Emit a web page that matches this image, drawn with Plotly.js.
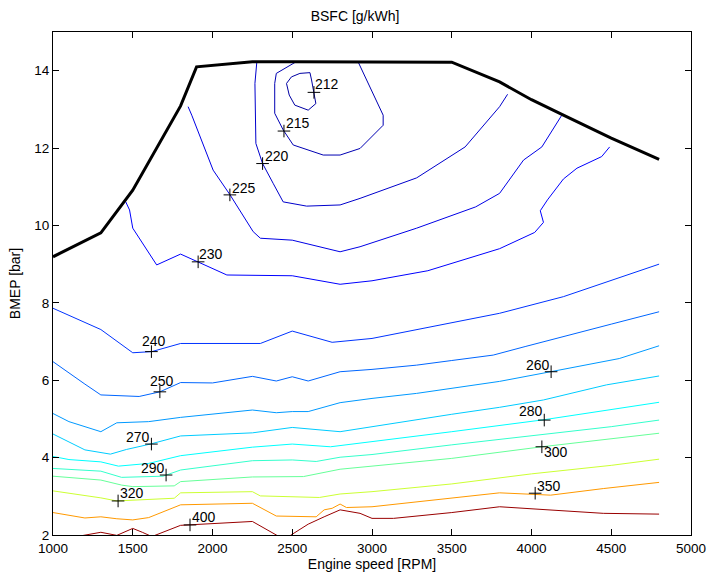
<!DOCTYPE html>
<html><head><meta charset="utf-8">
<script src="https://cdn.plot.ly/plotly-3.0.1.min.js"></script>
<style>body{margin:0;background:#fff}</style>
</head><body><div id="chart" style="width:710px;height:576px"></div>
<script>
// ---- data (engine speed [RPM], BMEP [bar]) ----
const fullLoadRpm  = [1000, 1300, 1500, 1800, 1900, 2250, 2500, 3000, 3500, 3800, 4000, 4200, 4500, 4800];
const fullLoadBmep = [9.19, 9.81, 10.91, 13.09, 14.10, 14.23, 14.23, 14.23, 14.22, 13.71, 13.25, 12.85, 12.26, 11.71];

const rpm212  = [2464, 2495, 2548, 2611, 2621, 2636, 2648, 2600, 2516, 2481, 2464];
const bmep212 = [13.67, 13.84, 13.93, 13.95, 13.76, 13.41, 13.15, 12.98, 13.11, 13.37, 13.67];

const rpm215  = [2520, 2400, 2390, 2390, 2443, 2506, 2694, 2800, 2925, 3070, 3070, 2915];
const bmep215 = [14.22, 13.93, 13.67, 12.90, 12.47, 12.08, 11.82, 11.82, 11.99, 12.59, 12.85, 14.21];

const rpm220  = [2278, 2266, 2272, 2314, 2380, 2443, 2590, 2800, 2925, 3280, 3584, 3800, 3850];
const bmep220 = [14.23, 13.67, 12.12, 11.60, 11.09, 10.61, 10.50, 10.53, 10.70, 11.23, 12.03, 13.07, 13.39];

const rpm225  = [1847, 1870, 2004, 2110, 2255, 2300, 2500, 2800, 2925, 3280, 3650, 3800, 3950, 4065, 4190];
const bmep225 = [13.07, 12.85, 11.43, 10.79, 9.84, 9.67, 9.62, 9.32, 9.45, 9.93, 10.48, 10.83, 11.69, 12.03, 12.85];

const rpm230  = [1455, 1480, 1500, 1650, 1800, 1910, 2090, 2500, 2800, 3000, 3350, 3800, 4020, 4075, 4055, 4100, 4200, 4285, 4440, 4490];
const bmep230 = [10.62, 10.40, 9.93, 8.98, 9.26, 9.06, 8.72, 8.70, 8.48, 8.57, 8.83, 9.40, 9.82, 10.08, 10.38, 10.66, 11.20, 11.48, 11.78, 12.03];

const rpm240  = [1000, 1300, 1500, 1620, 1800, 2250, 2300, 2500, 2750, 3000, 3250, 3500, 3800, 4200, 4500, 4800];
const bmep240 = [7.86, 7.31, 6.71, 6.74, 6.95, 6.94, 6.95, 7.27, 6.98, 7.08, 7.28, 7.49, 7.73, 8.16, 8.58, 9.00];

const rpm250  = [1000, 1100, 1200, 1300, 1540, 1670, 1800, 2000, 2250, 2400, 2500, 2600, 2800, 3000, 3280, 3500, 3760, 3960, 4200, 4500, 4800];
const bmep250 = [6.48, 6.18, 5.90, 5.62, 5.58, 5.70, 5.94, 5.93, 6.10, 5.98, 6.09, 5.98, 6.22, 6.28, 6.39, 6.51, 6.65, 6.87, 7.12, 7.45, 7.77];

const rpm260  = [1000, 1100, 1300, 1400, 1600, 1800, 2250, 2400, 2500, 2600, 2800, 3000, 3280, 3500, 3800, 4120, 4550, 4800];
const bmep260 = [5.14, 4.93, 4.67, 4.90, 4.93, 5.04, 5.23, 5.16, 5.19, 5.19, 5.42, 5.53, 5.66, 5.79, 5.97, 6.22, 6.56, 6.89];

const rpm270  = [1000, 1200, 1360, 1460, 1610, 1800, 2250, 2500, 2800, 3000, 3220, 3500, 3800, 4075, 4470, 4800];
const bmep270 = [4.61, 4.20, 4.09, 4.21, 4.35, 4.56, 4.64, 4.78, 4.67, 4.80, 4.93, 5.12, 5.30, 5.49, 5.88, 6.11];

const rpm280  = [1000, 1100, 1300, 1410, 1600, 1800, 2250, 2500, 2740, 3000, 3500, 4080, 4500, 4800];
const bmep280 = [4.03, 3.95, 3.89, 3.78, 3.85, 4.05, 4.27, 4.35, 4.28, 4.41, 4.67, 4.98, 5.24, 5.43];

const rpm290  = [1000, 1300, 1430, 1690, 1800, 2250, 2500, 2650, 2800, 3000, 3500, 4100, 4500, 4800];
const bmep290 = [3.72, 3.65, 3.49, 3.52, 3.68, 3.92, 3.94, 3.90, 4.01, 4.08, 4.33, 4.62, 4.80, 4.97];

const rpm300  = [1000, 1300, 1430, 1500, 1760, 1800, 2250, 2570, 2800, 3000, 3500, 4065, 4500, 4800];
const bmep300 = [3.52, 3.42, 3.29, 3.25, 3.27, 3.38, 3.50, 3.51, 3.70, 3.78, 3.98, 4.28, 4.48, 4.63];

const rpm320  = [1000, 1300, 1400, 1760, 1800, 2250, 2300, 2670, 2800, 3000, 3500, 4000, 4500, 4800];
const bmep320 = [3.14, 2.96, 2.88, 2.95, 3.09, 3.12, 3.01, 2.97, 3.06, 3.12, 3.32, 3.58, 3.80, 3.96];

const rpm350  = [1000, 1200, 1300, 1400, 1500, 1600, 1800, 2250, 2400, 2650, 2700, 2750, 2800, 2840, 3000, 3500, 3800, 4120, 4450, 4800];
const bmep350 = [2.58, 2.44, 2.47, 2.42, 2.39, 2.45, 2.78, 2.82, 2.49, 2.47, 2.65, 2.69, 2.80, 2.71, 2.73, 2.96, 3.09, 3.03, 3.20, 3.36];

const rpm400  = [1000, 1200, 1300, 1400, 1500, 1560, 1620, 1800, 2250, 2400, 2450, 2500, 2600, 2700, 2800, 2925, 3000, 3135, 3500, 3800, 4120, 4450, 4800];
const bmep400 = [1.85, 1.99, 2.07, 1.99, 2.17, 2.07, 1.96, 2.25, 2.35, 2.00, 1.88, 2.02, 2.28, 2.47, 2.65, 2.56, 2.43, 2.43, 2.58, 2.73, 2.65, 2.56, 2.54];

const levels = [212, 215, 220, 225, 230, 240, 250, 260, 270, 280, 290, 300, 320, 350, 400];
const levelRpm  = [rpm212, rpm215, rpm220, rpm225, rpm230, rpm240, rpm250, rpm260, rpm270, rpm280, rpm290, rpm300, rpm320, rpm350, rpm400];
const levelBmep = [bmep212, bmep215, bmep220, bmep225, bmep230, bmep240, bmep250, bmep260, bmep270, bmep280, bmep290, bmep300, bmep320, bmep350, bmep400];

// contour label positions ("+" markers)
const labelText = ['212', '215', '220', '225', '230', '240', '250', '260', '270', '280', '290', '300', '320', '350', '400'];
const labelRpm  = [2636, 2448, 2314, 2109, 1910, 1617, 1670, 4123, 1617, 4080, 1709, 4065, 1408, 4023, 1859];
const labelBmep = [13.44, 12.44, 11.60, 10.79, 9.06, 6.74, 5.70, 6.22, 4.35, 4.97, 3.55, 4.28, 2.88, 3.08, 2.26];

// ---- styling: where each label's text sits relative to its "+" ----
const labelXAnchor = ['left', 'left', 'left', 'left', 'left', 'left', 'left', 'right', 'right', 'right', 'right', 'left', 'left', 'left', 'left'];
const labelYAnchor = ['bottom', 'bottom', 'bottom', 'bottom', 'bottom', 'bottom', 'bottom', 'bottom', 'bottom', 'bottom', 'bottom', 'top', 'bottom', 'bottom', 'bottom'];
const labelDx = [0, 1, 1, 1, 0, -10, -11, 0, 0, 0, 0, 1, 1, 1, 1];
const labelDy = [-1, -1, -1, -2, -1, 2, 2, -2, -2, 0, -2, 4, -1, -2, -1];

const cLo = 205, cHi = 405;
function jet(v) {
  const t = Math.min(1, Math.max(0, (v - cLo) / (cHi - cLo)));
  const cl = x => Math.round(255 * Math.min(1, Math.max(0, x)));
  return `rgb(${cl(1.5 - Math.abs(4 * t - 3))},${cl(1.5 - Math.abs(4 * t - 2))},${cl(1.5 - Math.abs(4 * t - 1))})`;
}
const FONT = '"Liberation Sans", Arial, Helvetica, sans-serif';

const traces = levels.map((lv, i) => ({
  type: 'scatter', mode: 'lines', x: levelRpm[i], y: levelBmep[i],
  line: {color: jet(lv), width: 1}, hoverinfo: 'skip', name: String(lv)
}));
traces.push({
  type: 'scatter', mode: 'lines', x: fullLoadRpm, y: fullLoadBmep,
  line: {color: '#000', width: 3}, name: 'full load'
});
traces.push({
  type: 'scatter', mode: 'markers', x: labelRpm, y: labelBmep,
  marker: {symbol: 'cross-thin', size: 9, color: '#000', line: {color: '#000', width: 1}},
  cliponaxis: false, name: 'labels'
});

const annotations = labelText.map((t, i) => ({
  x: labelRpm[i], y: labelBmep[i], xref: 'x', yref: 'y', text: t, showarrow: false,
  xanchor: labelXAnchor[i], yanchor: labelYAnchor[i], xshift: labelDx[i], yshift: labelDy[i],
  borderpad: 0, font: {family: FONT, size: 14, color: '#000'}
}));

const axisBase = {
  showline: true, linecolor: '#000', linewidth: 1, mirror: 'ticks',
  ticks: 'inside', ticklen: 6, tickcolor: '#000', tickwidth: 1,
  showgrid: false, zeroline: false,
  tickfont: {family: FONT, size: 13.5, color: '#000'}
};
const layout = {
  width: 710, height: 576,
  margin: {l: 53, r: 19, t: 32, b: 41},
  paper_bgcolor: '#fff', plot_bgcolor: '#fff',
  showlegend: false,
  font: {family: FONT, color: '#000'},
  annotations: annotations,
  title: {text: 'BSFC [g/kWh]', font: {family: FONT, size: 14, color: '#000'}, x: 0.5, xanchor: 'center', y: 0.972, yanchor: 'middle'},
  xaxis: Object.assign({}, axisBase, {range: [1000, 5000], tick0: 1000, dtick: 500, ticklabelstandoff: 1,
    title: {text: 'Engine speed [RPM]', font: {family: FONT, size: 14, color: '#000'}, standoff: 3}}),
  yaxis: Object.assign({}, axisBase, {range: [2, 15], tick0: 0, dtick: 2,
    title: {text: 'BMEP [bar]', font: {family: FONT, size: 14, color: '#000'}, standoff: 10}})
};
Plotly.newPlot('chart', traces, layout, {displayModeBar: false, staticPlot: true});
</script>
</body></html>
